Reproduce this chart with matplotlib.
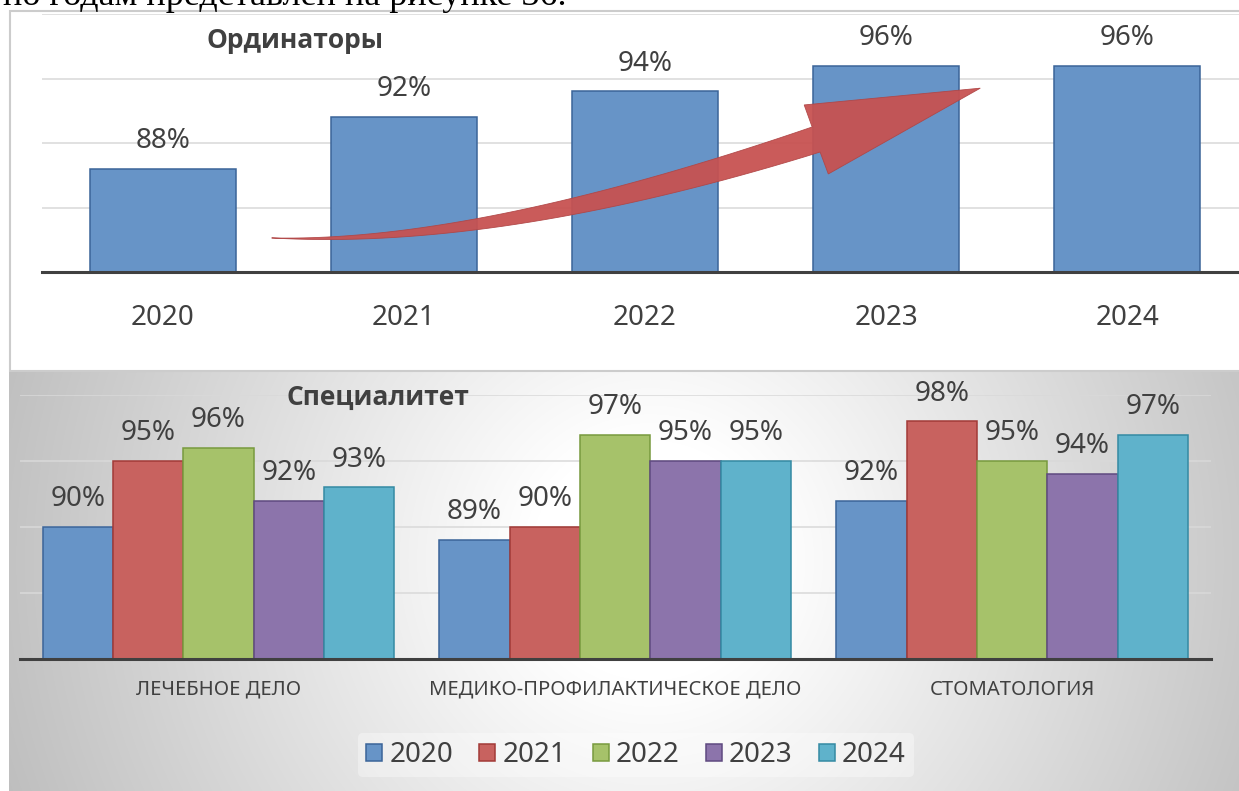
import numpy as np
import matplotlib
matplotlib.use("Agg")
import matplotlib.pyplot as plt
from matplotlib.patches import Rectangle, Polygon, Patch

plt.rcParams['font.family'] = ['Noto Sans', 'DejaVu Sans']

# data
years = ['2020', '2021', '2022', '2023', '2024']
ord_values = [88, 92, 94, 96, 96]

specialties = ['ЛЕЧЕБНОЕ ДЕЛО', 'МЕДИКО-ПРОФИЛАКТИЧЕСКОЕ ДЕЛО', 'СТОМАТОЛОГИЯ']
spec_2020 = [90, 89, 92]
spec_2021 = [95, 90, 98]
spec_2022 = [96, 97, 95]
spec_2023 = [92, 95, 94]
spec_2024 = [93, 95, 97]
spec_series = [spec_2020, spec_2021, spec_2022, spec_2023, spec_2024]

face_colors = ['#6794c7', '#c8625f', '#a6c26a', '#8c74ab', '#5fb2cb']
edge_colors = ['#3b6499', '#a23a37', '#789a3e', '#5f4a80', '#348aa3']
text_col = '#404040'
grid_col = '#d9d9d9'

W, H = 1239, 791
fig = plt.figure(figsize=(W / 100, H / 100), dpi=100)

# background layer in pixel coordinates
bg = fig.add_axes([0, 0, 1, 1])
bg.set_xlim(0, W)
bg.set_ylim(H, 0)
bg.axis('off')

# radial grey gradient of the lower panel
xx, yy = np.meshgrid(np.arange(9, W), np.arange(372, H))
d = np.hypot(xx - 650, yy - 560)
shade = 1.0 - 0.00045 * np.clip(d - 120, 0, None)
shade = np.clip(shade, 0.74, 1.0)
bg.imshow(np.dstack([shade] * 3), extent=(9, W, H, 372), aspect='auto', zorder=0)
bg.add_patch(Rectangle((10, 11), W, 360, facecolor='white', edgecolor='#cccccc', lw=1.5, zorder=1))

# cropped line of body text above the chart
bg.text(3, 5, 'по годам представлен на рисунке 36.', family='Liberation Serif',
        fontsize=26, color='black', va='baseline', ha='left')

# --- top chart: Ординаторы
ax1 = fig.add_axes([42 / W, 1 - 272 / H, (1248 - 42) / W, 258 / H])
ax1.set_facecolor('none')
x1 = np.arange(len(years))
bars = ax1.bar(x1, ord_values, width=0.606, color=face_colors[0], edgecolor=edge_colors[0], lw=1.1, zorder=2)
for b, v in zip(bars, ord_values):
    ax1.annotate(f'{v}%', (b.get_x() + b.get_width() / 2, v), xytext=(0, 10), textcoords='offset points',
                 ha='center', va='bottom', fontsize=20, color=text_col)
ax1.set_xlim(-0.5, 4.5)
ax1.set_ylim(80, 100)
ax1.set_yticks([85, 90, 95, 100])
ax1.yaxis.grid(True, color=grid_col, lw=1.1)
ax1.set_axisbelow(True)
ax1.tick_params(axis='y', length=0, labelleft=False)
ax1.set_xticks(x1)
ax1.set_xticklabels(years, fontsize=20, color=text_col)
ax1.tick_params(axis='x', length=0, pad=23)
for s in ['top', 'left', 'right']:
    ax1.spines[s].set_visible(False)
ax1.spines['bottom'].set_color(text_col)
ax1.spines['bottom'].set_linewidth(2.2)

# growth arrow: curved shaft (quadratic curves) plus head
t = np.linspace(0, 1, 40)[:, None]
def qcurve(p0, c, p2):
    p0, c, p2 = np.array(p0), np.array(c), np.array(p2)
    return (1 - t) ** 2 * p0 + 2 * t * (1 - t) * c + t ** 2 * p2
upper = qcurve((0.452, 82.64), (1.3, 82.3), (2.693, 91.24))
lower = qcurve((0.452, 82.64), (1.4, 81.6), (2.726, 89.30))
head = np.array([(2.66, 92.95), (3.39, 94.25), (2.76, 87.6)])
arrow_pts = np.vstack([upper, head, lower[::-1]])
ax1.add_patch(Polygon(arrow_pts, closed=True, facecolor='#c75251', edgecolor='#b04646',
                      lw=0.6, alpha=0.95, zorder=3, clip_on=False))
fig.text(295 / W, 1 - 40 / H, 'Ординаторы', ha='center', va='center', fontsize=19,
         fontweight='bold', family=['Open Sans', 'DejaVu Sans'], color=text_col)

# --- bottom chart: Специалитет
ax2 = fig.add_axes([20 / W, 1 - 659 / H, 1190.5 / W, 264 / H])
ax2.set_facecolor('none')
x2 = np.arange(len(specialties))
bw = 0.1773
for i, vals in enumerate(spec_series):
    pos = x2 + (i - 2) * bw
    bs = ax2.bar(pos, vals, width=bw, color=face_colors[i], edgecolor=edge_colors[i], lw=1.1, zorder=2)
    for b, v in zip(bs, vals):
        ax2.annotate(f'{v}%', (b.get_x() + b.get_width() / 2, v), xytext=(0, 10), textcoords='offset points',
                     ha='center', va='bottom', fontsize=20, color=text_col)
ax2.set_xlim(-0.5, 2.5)
ax2.set_ylim(80, 100)
ax2.set_yticks([85, 90, 95, 100])
ax2.yaxis.grid(True, color=grid_col, lw=1.1)
ax2.set_axisbelow(True)
ax2.tick_params(axis='y', length=0, labelleft=False)
ax2.set_xticks(x2)
ax2.set_xticklabels(specialties, fontsize=14.5, color=text_col)
ax2.tick_params(axis='x', length=0, pad=15)
for s in ['top', 'left', 'right']:
    ax2.spines[s].set_visible(False)
ax2.spines['bottom'].set_color(text_col)
ax2.spines['bottom'].set_linewidth(2.2)
fig.text(378 / W, 1 - 397 / H, 'Специалитет', ha='center', va='center', fontsize=19,
         fontweight='bold', family=['Open Sans', 'DejaVu Sans'], color=text_col)

handles = [Patch(facecolor=face_colors[i], edgecolor=edge_colors[i], lw=1.1) for i in range(len(years))]
leg = fig.legend(handles, years, loc='center', bbox_to_anchor=(636 / W, 1 - 755 / H), ncol=5,
                 fontsize=20, frameon=True, handlelength=0.58, handleheight=0.58,
                 handletextpad=0.25, columnspacing=0.95, borderpad=0.3)
leg.get_frame().set_facecolor('white')
leg.get_frame().set_alpha(0.35)
leg.get_frame().set_edgecolor('none')
for t_ in leg.get_texts():
    t_.set_color(text_col)

fig.savefig('out.png', dpi=100)
